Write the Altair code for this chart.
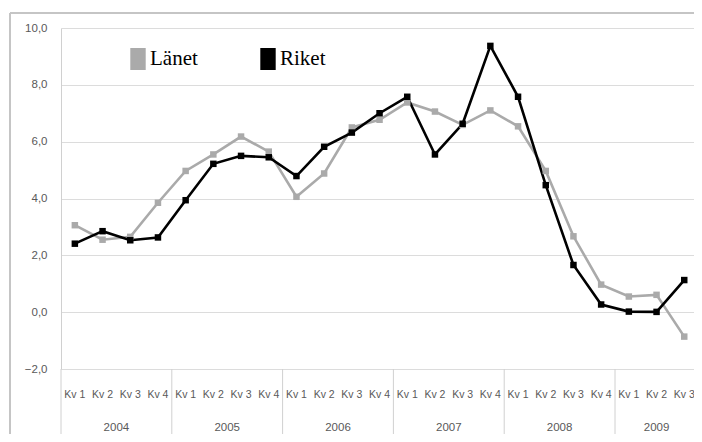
import altair as alt
import pandas as pd

years = [2004, 2005, 2006, 2007, 2008, 2009]
quarters_per_year = [4, 4, 4, 4, 4, 3]
series_names = ["Länet", "Riket"]
lanet = [3.06, 2.55, 2.65, 3.85, 4.97, 5.55, 6.18, 5.65,
         4.06, 4.88, 6.50, 6.77, 7.38, 7.06, 6.59, 7.10,
         6.54, 4.97, 2.67, 0.97, 0.55, 0.61, -0.86]
riket = [2.41, 2.85, 2.53, 2.63, 3.94, 5.22, 5.50, 5.45,
         4.79, 5.82, 6.32, 7.00, 7.58, 5.55, 6.63, 9.37,
         7.58, 4.47, 1.66, 0.27, 0.02, 0.01, 1.13]
y_ticks = [-2, 0, 2, 4, 6, 8, 10]

# ---- build tables from the arrays ----
rows = []
quarter_rows = []
idx = 0
year_rows = []
bounds = [-0.5]
for yr, nq in zip(years, quarters_per_year):
    start = idx
    for q in range(1, nq + 1):
        quarter_rows.append({"idx": idx, "kv": f"Kv {q}"})
        idx += 1
    year_rows.append({"year": str(yr), "mid": (start + idx - 1) / 2})
    bounds.append(idx - 0.5)
for i, q in enumerate(quarter_rows):
    rows.append({"idx": q["idx"], "serie": "Länet", "value": lanet[i]})
    rows.append({"idx": q["idx"], "serie": "Riket", "value": riket[i]})

df = pd.DataFrame(rows)
qdf = pd.DataFrame(quarter_rows)
ydf = pd.DataFrame(year_rows)
bdf = pd.DataFrame({"b": bounds})

# layout: the visible plot is cut at the right edge like the original
W, H = 633, 341
band = 27.7
xscale = alt.Scale(domain=[-0.5, -0.5 + W / band], nice=False, zero=False)
yscale = alt.Scale(domain=[-2, 10], nice=False, zero=False)
cscale = alt.Scale(domain=series_names, range=["#aaaaaa", "#000000"])
label_font = "Liberation Sans"
label_color = "#595959"

yaxis = alt.Axis(
    values=y_ticks, title=None, grid=True, gridColor="#dcdcdc", gridWidth=1,
    domain=True, domainColor="#d0d0d0", ticks=False, labelPadding=14,
    labelFont=label_font, labelFontSize=11.5, labelColor=label_color,
    labelExpr="replace(format(datum.value, '.1f'), '.', ',')")
legend = alt.Legend(
    title=None, orient="none", legendX=66, legendY=20, direction="horizontal",
    symbolType="M-0.7,-1H0.7V1H-0.7Z", symbolSize=484, symbolStrokeWidth=0,
    labelFont="Liberation Serif", labelFontSize=21, labelColor="#000000",
    labelOffset=1, columnPadding=59)

base = alt.Chart(df)

lines = base.mark_line(strokeWidth=2.6).encode(
    x=alt.X("idx:Q", scale=xscale, axis=None),
    y=alt.Y("value:Q", scale=yscale, axis=yaxis),
    color=alt.Color("serie:N", scale=cscale, legend=legend),
)

points = base.mark_square(size=42, opacity=1, filled=True).encode(
    x=alt.X("idx:Q", scale=xscale, axis=None),
    y=alt.Y("value:Q", scale=yscale, axis=yaxis),
    color=alt.Color("serie:N", scale=cscale, legend=legend),
)

kv_text = alt.Chart(qdf).mark_text(
    font=label_font, fontSize=10.5, color=label_color, baseline="middle"
).encode(x=alt.X("idx:Q", scale=xscale, axis=None), y=alt.value(H + 26), text="kv:N")

year_text = alt.Chart(ydf).mark_text(
    font=label_font, fontSize=11.5, color=label_color, baseline="middle"
).encode(x=alt.X("mid:Q", scale=xscale, axis=None), y=alt.value(H + 59), text="year:N")

seps = alt.Chart(bdf).mark_rule(color="#d0d0d0", strokeWidth=1).encode(
    x=alt.X("b:Q", scale=xscale, axis=None), y=alt.value(H), y2=alt.value(H + 70)
)

frame_top = alt.Chart(bdf).mark_rule(color="#c4c4c4", strokeWidth=1.5).encode(
    x=alt.value(-51), x2=alt.value(W + 10), y=alt.value(-15)
)
frame_left = alt.Chart(bdf).mark_rule(color="#c4c4c4", strokeWidth=1.5).encode(
    x=alt.value(-51), y=alt.value(-15), y2=alt.value(H + 120)
)

chart = alt.layer(frame_top, frame_left, seps, lines, points, kv_text, year_text).properties(
    width=W, height=H,
    autosize=alt.AutoSizeParams(type="none"),
    padding={"left": 53, "top": 20, "right": 0, "bottom": 65},
).configure_view(strokeWidth=0)

chart.save("out.html", embed_options={"renderer": "svg", "actions": False})
